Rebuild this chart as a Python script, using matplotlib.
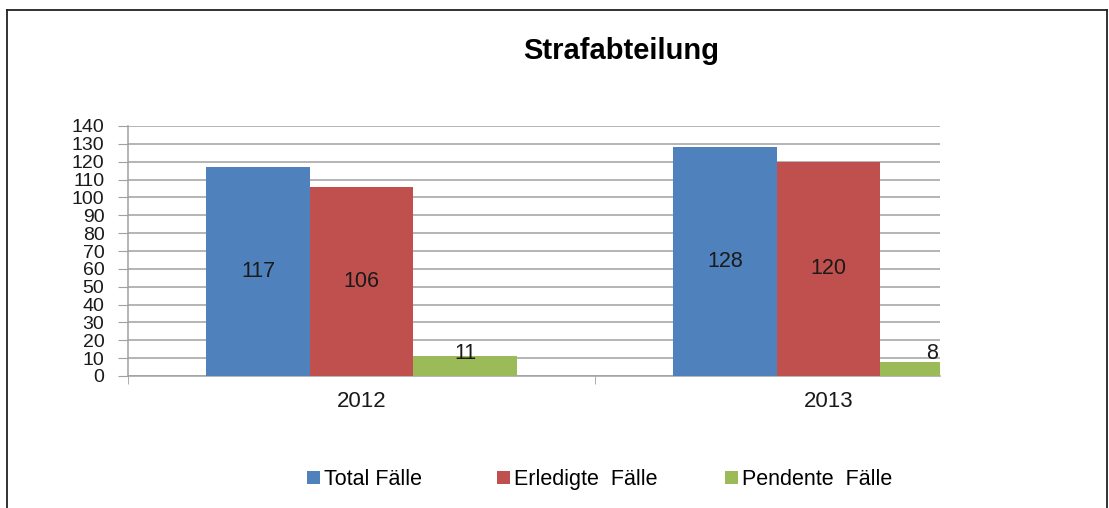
import numpy as np
import matplotlib
matplotlib.use('Agg')
import matplotlib.pyplot as plt
from matplotlib.lines import Line2D
from matplotlib.patches import Patch

plt.rcParams['font.family'] = ['Liberation Sans', 'DejaVu Sans']

# Data
years = ['2012', '2013']
total = [117, 128]
erledigt = [106, 120]
pendent = [11, 8]
series_names = ['Total Fälle', 'Erledigte  Fälle', 'Pendente  Fälle']
colors = ['#4F81BD', '#C0504D', '#9BBB59']

fig = plt.figure(figsize=(11.09, 5.08), dpi=100)
ax = fig.add_axes([128 / 1109, 1 - 376 / 508, 812 / 1109, 250 / 508])

x = np.arange(len(years))
w = 0.2216
for i, (vals, c) in enumerate(zip([total, erledigt, pendent], colors)):
    xs = x + (i - 1) * w
    ax.bar(xs, vals, width=w, color=c, zorder=3)
    for xx, v in zip(xs, vals):
        ly = v / 2 if v > 20 else 12.5
        ax.text(xx, ly, str(v), ha='center', va='center', fontsize=15.5,
                color='#1a1a1a', zorder=4)

ax.set_xlim(-0.5, 1.2388)
ax.set_ylim(0, 140)
ax.set_yticks(range(0, 141, 10))
ax.yaxis.grid(True, color='#a0a0a0', linewidth=1.1, zorder=0)
ax.tick_params(axis='y', labelsize=14, length=7, color='#a0a0a0', pad=10,
               labelcolor='#1a1a1a')

ax.set_xticks(x)
ax.set_xticklabels(years)
ax.set_xticks([-0.5, 0.5], minor=True)
ax.tick_params(axis='x', which='major', length=0, labelsize=16, pad=10.5,
               labelcolor='#1a1a1a')
ax.tick_params(axis='x', which='minor', length=6, color='#a0a0a0')

for s in ['top', 'right']:
    ax.spines[s].set_visible(False)
for s in ['left', 'bottom']:
    ax.spines[s].set_color('#a0a0a0')
    ax.spines[s].set_linewidth(1.1)

fig.text(621 / 1109, 1 - 51 / 508, 'Strafabteilung', ha='center', va='center',
         fontsize=21, fontweight='bold')

# legend: one entry each so the baselines line up
leg_x = [307, 497, 725]
for name, c, lx in zip(series_names, colors, leg_x):
    fig.legend([Patch(facecolor=c, edgecolor='none')], [name], loc='upper left',
               bbox_to_anchor=(lx / 1109, 1 - 469 / 508), frameon=False,
               fontsize=15.5, handlelength=0.6, handleheight=0.6,
               handletextpad=0.2, borderpad=0, borderaxespad=0)

# outer chart frame
for xs_, ys_ in [([7, 7], [0, 498]), ([7, 1107], [498, 498]), ([1107, 1107], [498, 0])]:
    fig.add_artist(Line2D([v / 1109 for v in xs_], [v / 508 for v in ys_],
                          color='#222222', linewidth=1.3))

fig.savefig('out.png', dpi=100)
